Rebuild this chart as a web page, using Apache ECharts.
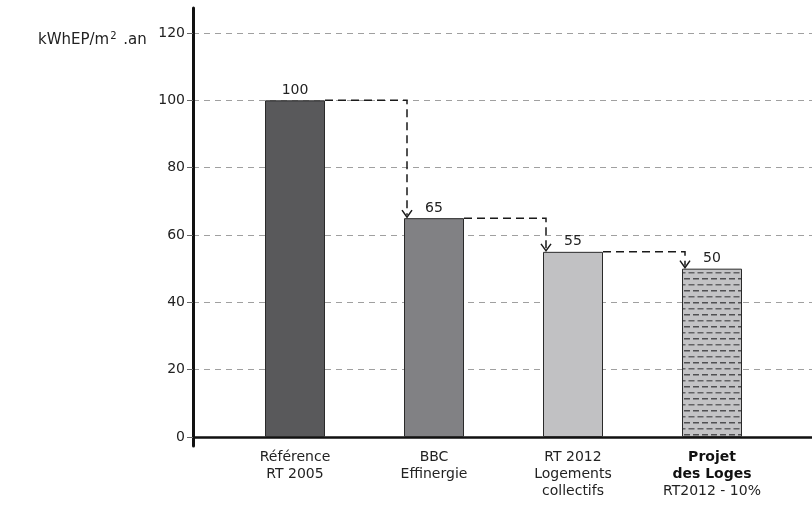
<!DOCTYPE html>
<html>
<head>
<meta charset="utf-8">
<script src="https://cdn.jsdelivr.net/npm/echarts@6/dist/echarts.min.js"></script>
<style>
  html, body { margin: 0; padding: 0; background: #fff; }
  #chart { width: 812px; height: 509px; }
</style>
</head>
<body>
<div id="chart"></div>
<script>
// Energy consumption per project type (kWhEP/m².an)
const categories = ['Référence\nRT 2005', 'BBC\nEffinergie', 'RT 2012\nLogements\ncollectifs', 'Projet\ndes Loges\nRT2012 - 10%'];
const values = [100, 65, 55, 50];
const barColors = ['#59595b', '#818184', '#c1c1c3', null];
const yTicks = { min: 0, max: 120, interval: 20 };
const unitLabel = 'kWhEP/m{sup|2} .an';

const FONT = '"DejaVu Sans", sans-serif';

// Dashed fill for the highlighted project bar
function makePattern() {
  const c = document.createElement('canvas');
  c.width = 18; c.height = 12;
  const g = c.getContext('2d');
  g.fillStyle = '#c3c3c5';
  g.fillRect(0, 0, 18, 12);
  g.fillStyle = '#505052';
  g.fillRect(0, 2, 6, 1.5);
  g.fillRect(9, 2, 6, 1.5);
  g.fillStyle = '#626264';
  g.fillRect(4.5, 8, 6, 1.5);
  g.fillRect(13.5, 8, 4.5, 1.5);
  g.fillRect(0, 8, 1.5, 1.5);
  return c;
}

const barData = values.map((v, i) => ({
  value: v,
  itemStyle: barColors[i]
    ? { color: barColors[i] }
    : { color: { image: makePattern(), repeat: 'repeat' } }
}));

// Step connectors between consecutive bars
const steps = values.slice(0, -1).map((v, i) => [i, v, values[i + 1]]);

const chart = echarts.init(document.getElementById('chart'), null, { renderer: 'canvas' });

chart.setOption({
  animation: false,
  backgroundColor: '#fff',
  title: {
    text: unitLabel,
    left: 33,
    top: 26,
    textStyle: {
      fontFamily: FONT, fontSize: 15, fontWeight: 'normal', color: '#222',
      rich: { sup: { fontFamily: FONT, fontSize: 10, verticalAlign: 'top', padding: [0, 2, 8, 1], color: '#222' } }
    }
  },
  grid: [
    { left: 193, right: 0, top: 33, bottom: 72 },
    { left: 225.5, right: 30.5, top: 33, bottom: 72 },
    { left: 193, right: 0, top: 8, bottom: 63 }
  ],
  xAxis: [
    {
      gridIndex: 0, type: 'value', min: 0, max: 1,
      axisLine: { show: true, lineStyle: { color: '#111', width: 2.5 } },
      axisTick: { show: false }, axisLabel: { show: false }, splitLine: { show: false }
    },
    {
      gridIndex: 1, type: 'category', data: categories,
      axisLine: { show: false }, axisTick: { show: false },
      axisLabel: {
        interval: 0,
        hideOverlap: false,
        margin: 12,
        fontFamily: FONT, fontSize: 14, color: '#222', lineHeight: 17,
        formatter: (val, idx) => {
          const lines = val.split('\n');
          if (idx === categories.length - 1) {
            return lines.map((l, k) => k < 2 ? '{b|' + l + '}' : '{n|' + l + '}').join('\n');
          }
          return lines.map(l => '{n|' + l + '}').join('\n');
        },
        rich: {
          b: { fontFamily: FONT, fontSize: 14, fontWeight: 'bold', color: '#111', lineHeight: 17 },
          n: { fontFamily: FONT, fontSize: 14, color: '#222', lineHeight: 17 }
        }
      }
    },
    { gridIndex: 2, type: 'value', show: false, min: 0, max: 1 }
  ],
  yAxis: [
    {
      gridIndex: 0, type: 'value', min: yTicks.min, max: yTicks.max, interval: yTicks.interval,
      axisLine: { show: false },
      axisTick: { show: true, length: 6, lineStyle: { color: '#666', width: 1 } },
      axisLabel: { margin: 8, fontFamily: FONT, fontSize: 14, color: '#222' },
      splitLine: { show: true, lineStyle: { color: '#a0a0a0', type: [6, 5], width: 1 } }
    },
    {
      gridIndex: 1, type: 'value', min: yTicks.min, max: yTicks.max, interval: yTicks.interval, show: false
    },
    {
      gridIndex: 2, type: 'value', min: 0, max: 1,
      axisLine: { show: true, lineStyle: { color: '#111', width: 3 } },
      axisTick: { show: false }, axisLabel: { show: false }, splitLine: { show: false }
    }
  ],
  series: [
    {
      type: 'bar', xAxisIndex: 1, yAxisIndex: 1, data: barData, barWidth: 60,
      itemStyle: { borderColor: '#2a2a2a', borderWidth: 1 },
      label: {
        show: true, position: 'top', distance: 3,
        fontFamily: FONT, fontSize: 14, color: '#222'
      },
      z: 3
    },
    {
      type: 'custom', xAxisIndex: 1, yAxisIndex: 1, data: steps, z: 4, silent: true,
      renderItem: (params, api) => {
        const i = api.value(0);
        const from = api.coord([i, api.value(1)]);
        const to = api.coord([i + 1, api.value(2)]);
        const half = 30;
        const xs = from[0] + half;
        const xv = to[0] - half + 3;
        const tipY = to[1] - 1;
        const style = { stroke: '#1a1a1a', lineWidth: 1.5, lineDash: [8, 5], fill: null };
        const solid = { stroke: '#1a1a1a', lineWidth: 1.5, fill: null };
        return {
          type: 'group',
          children: [
            { type: 'polyline', shape: { points: [[xs, from[1]], [xv, from[1]], [xv, tipY - 2]] }, style },
            { type: 'polyline', shape: { points: [[xv - 5, tipY - 7], [xv, tipY], [xv + 5, tipY - 7]] }, style: solid }
          ]
        };
      }
    }
  ]
});
</script>
</body>
</html>
